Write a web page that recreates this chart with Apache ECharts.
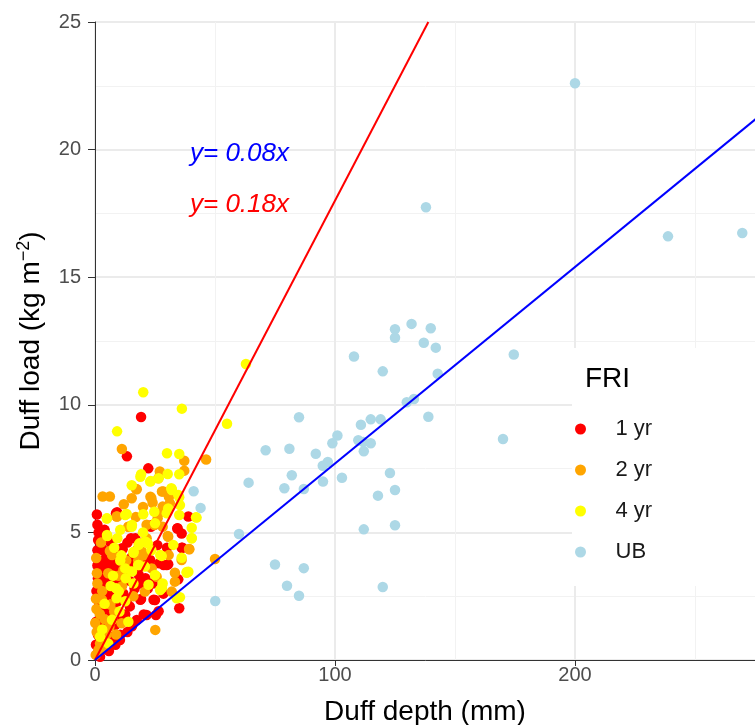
<!DOCTYPE html>
<html>
<head>
<meta charset="utf-8">
<script src="https://cdn.jsdelivr.net/npm/echarts@6/dist/echarts.min.js"></script>
<style>html,body{margin:0;padding:0;background:#fff;}#c{width:755px;height:725px;}</style>
</head>
<body>
<div id="c"></div>
<script>
// ---- data ----
var groupNames = ['1 yr', '2 yr', '4 yr', 'UB'];
var groupColors = ['#ff0000', '#ffa500', '#ffff00', '#add8e6'];

var fri1 = [
  [19.2,9.52],[13.3,7.98],[22.2,7.51],[8.75,5.75],[38.9,5.62],[23.3,5.22],[34.3,5.15],[36.1,4.96],
  [15,4.77],[36.1,4.4],[3.2,4.31],[11.5,4.34],[26.8,3.79],[29.9,3.72],[2.8,3.81],[7.6,3.85],[4.6,3.4],
  [34.7,3.16],[18.7,3.0],[11.1,3.13],[3.5,2.87],[4.2,2.48],[11.8,2.61],[19.2,2.39],[25,2.35],[35.1,2.03],
  [25.4,1.76],[21.5,1.76],[17.4,1.57],[2.1,1.96],[2.8,1.57],[10.4,0.78],[6.25,0.91],[2.1,0.13],
  [0.8,5.7],[1.5,5.0],[1.0,4.3],[2.2,3.6],[1.2,3.2],[0.6,2.7],[1.8,2.2],[0.5,1.5],[1.2,1.0],[0.4,0.6],
  [9.2,5.79],[23.75,5.29],[3.0,4.35],[11.25,4.38],[16.8,4.77],[3.6,3.79],[8.5,3.92],[15.4,4.05],
  [20.3,3.72],[23,3.92],[28.6,3.72],[7.1,3.53],[34.4,5.16],[36.4,4.4],[30.5,3.75],
  [2.9,3.41],[7.1,3.21],[18.2,3.34],[12.6,3.28],[2.9,2.82],[7.1,2.56],[18.9,2.36],[24.4,2.36],
  [2.9,1.91],[12.6,1.78],[20.3,1.78],[26.5,1.91],[8.5,1.38],[15.4,1.32],[10.5,0.99],[4.3,0.73],
  [7.1,0.86],[2.2,0.34],[5.5,2.0],[9.5,2.3],[14.5,2.1],[5.0,4.8],[10.0,3.6],[13.5,4.6],[6.0,3.0],
  [1.0,5.3],[4.0,5.1],[6.5,4.6],[1.3,4.7],[4.5,4.0],[9.5,4.1],[13.0,3.9],[5.5,3.7],[1.0,3.7],
  [3.5,3.2],[9.0,3.0],[14.5,3.1],[16.5,2.8],[1.6,2.5],[5.0,2.6],[8.0,2.2],[13.5,2.4],[3.8,2.1],
  [6.8,1.8],[1.5,1.3],[4.0,1.4],[11.5,1.6],[13.5,1.1],[3.2,0.9],[8.5,0.6],[5.8,0.35],[1.0,0.25],
  [16.0,3.7],[21.0,3.2],[24.0,3.0],[17.5,4.3],[26.0,4.5],[30.0,4.4],[22.0,2.8],[28.5,2.6]
];
var fri2 = [
  [11.2,8.27],[37.2,7.81],[46.3,7.86],[37.2,7.42],[27,7.39],[26.4,7.12],[17.4,6.69],[3.2,6.41],
  [6.2,6.41],[15.3,6.34],[23.1,6.4],[24,6.16],[28.5,6.6],[30.8,6.4],[31.2,6.14],[28.2,6.01],[9,5.62],
  [26.1,5.55],[13.9,5.22],[28.2,5.22],[21.5,4.77],[30.3,4.86],[39.3,4.34],[6.2,4.27],[36.1,3.92],
  [50,3.96],[11.8,3.53],[23.6,3.59],[33.3,3.42],[33.3,3.07],[25.7,3.26],[20.8,2.68],[32,2.68],
  [25.1,1.18],[11.1,1.44],[3.5,1.18],[2.1,0.65],[1.4,0.39],
  [17.1,6.7],[23.5,6.34],[27.9,6.6],[9.2,5.62],[28.6,5.81],[24.8,5.29],[14,5.22],[7.1,4.11],
  [19.6,4.24],[30.7,4.11],[30.5,4.83],[39.2,4.35],[0.1,1.45],[1.5,0.99],[6.4,2.17],[11.25,2.89],
  [2.9,2.36],[1.0,3.0],[4.0,1.6],[0.6,2.0],[8.0,1.9],[16.0,2.5],[13.0,3.9],
  [0.5,4.0],[2.5,4.6],[0.8,3.4],[3.0,2.7],[0.4,2.4],[2.0,1.8],[0.7,1.1],[4.8,1.0],[3.0,0.5],
  [0.3,0.2],[6.0,1.3],[8.8,1.0],[5.5,3.4],[9.8,3.3],[14.0,3.5],[18.0,3.9],[20.5,4.1],[17.0,5.6],
  [20.0,6.0],[12.0,6.1],[21.5,5.3]
];
var fri4 = [
  [20.1,10.49],[36.2,9.85],[55,9.26],[9.2,8.96],[30,8.1],[35.1,8.07],[19.2,7.28],[30.3,7.29],
  [35.1,7.28],[23.2,7.01],[15.3,6.85],[32,6.69],[35.1,6.38],[35.4,6.07],[24.7,5.81],[20.1,5.71],
  [13.2,5.72],[4.9,5.54],[29.9,5.75],[35.1,5.68],[42.1,5.59],[15.3,5.22],[25,5.36],[40.3,5.18],
  [5.1,4.86],[9.3,4.77],[18.5,4.57],[22,4.57],[40.3,4.77],[16,4.2],[27.8,4.08],[18,3.72],[20.8,3.66],
  [25,3.33],[38.2,3.42],[16,3.0],[28.2,3.0],[8.75,2.81],[9,2.42],[27.1,2.74],[34,2.42],[13.9,1.5],
  [5.5,0.65],[2.1,0.91],[62.9,11.6],
  [5,5.55],[12.6,5.68],[5,4.9],[15.4,5.29],[18.2,4.51],[16.1,4.24],[21,4.64],[27.2,4.11],[12.6,3.59],
  [18.2,3.72],[18.9,7.18],[23,6.99],[26.5,7.12],[31.8,6.73],[32,6.66],[34.7,6.47],[30.5,5.94],
  [42.3,5.58],[40.3,4.77],[36.1,4.01],[38.9,3.46],[32.6,4.51],[9.9,2.69],[12.6,2.3],[7.1,1.58],
  [22.3,2.95],[27.9,2.82],[15.4,3.47],[38.2,3.45],[35.4,2.46],[11.0,4.1],[7.5,3.3],[4.0,2.2],
  [10.5,3.9],[12.8,3.2],[6.5,2.9],[10.2,1.9],[3.0,1.2],[8.0,4.4],[20.0,5.0],[23.5,4.3],[10.5,5.1]
];
var ub = [
  [200,22.6],[137.9,17.74],[238.75,16.6],[269.7,16.73],[125,12.96],[131.9,13.17],[139.9,13.0],
  [125,12.63],[137,12.43],[142,12.24],[107.9,11.89],[119.9,11.31],[142.8,11.22],[174.5,11.97],
  [129.9,10.1],[132.9,10.23],[138.9,9.53],[85,9.51],[110.8,9.22],[114.9,9.43],[119,9.43],
  [101,8.8],[98.9,8.49],[109.7,8.61],[111.8,8.54],[114.9,8.49],[112,8.18],[170,8.66],[71.1,8.22],
  [81,8.28],[92,8.08],[97,7.76],[94.9,7.61],[102.9,7.14],[95,6.99],[82,7.24],[78.9,6.73],[87,6.7],
  [64,6.95],[122.9,7.33],[125,6.66],[117.9,6.44],[41.1,6.61],[44,5.96],[60,4.94],[112,5.12],
  [125,5.28],[75,3.74],[87,3.6],[80,2.91],[85,2.52],[119.9,2.86],[50.1,2.31]
];
var fitSlopes = [0.18, 0.077];         // red (FRI), blue (UB)
var fitColors = ['#ff0000', '#0000ff'];
var fitLabels = ['y= 0.18x', 'y= 0.08x'];
var yMax = 25, xMax = 300;
var xTicks = [0, 100, 200];
var yTicks = [0, 5, 10, 15, 20, 25];

// ---- chart ----
var FONT = "'Liberation Sans', Arial, Helvetica, sans-serif";
var chart = echarts.init(document.getElementById('c'), null, {renderer: 'canvas'});

function fitLine(s) {
  var xEnd = Math.min(xMax, yMax / s);
  return [[0, 0], [xEnd, s * xEnd]];
}

var groups = [fri1, fri2, fri4, ub];
var series = groups.map(function (d, i) {
  return {
    name: groupNames[i], type: 'scatter', data: d, symbolSize: 10.5,
    itemStyle: {color: groupColors[i], opacity: 1}, z: 2 + i * 0.01,
    emphasis: {disabled: true}
  };
});
fitSlopes.forEach(function (s, i) {
  series.push({
    type: 'line', data: fitLine(s), showSymbol: false, symbol: 'none',
    lineStyle: {color: fitColors[i], width: 2}, z: 5, silent: true
  });
});

chart.setOption({
  animation: false,
  backgroundColor: '#fff',
  textStyle: {fontFamily: FONT},
  grid: {left: 95, top: 22, right: -60, bottom: 65, outerBoundsMode: 'none', containLabel: false,
    show: true, borderColor: '#333', borderWidth: 1, backgroundColor: '#fff'},
  xAxis: {
    type: 'value', min: 0, max: xMax, interval: 100,
    name: 'Duff depth (mm)', nameLocation: 'middle', nameGap: 38,
    nameTextStyle: {fontSize: 28, color: '#000', fontFamily: FONT, padding: [0, 60, 0, 0]},
    axisLine: {show: true, lineStyle: {color: '#333', width: 1}},
    axisTick: {show: true, length: 6, lineStyle: {color: '#333', width: 1}},
    axisLabel: {fontSize: 20, color: '#4d4d4d', margin: 5, fontFamily: FONT,
      formatter: function (v) { return xTicks.indexOf(v) >= 0 ? String(v) : ''; }},
    splitLine: {show: true, lineStyle: {color: '#ebebeb', width: 2}},
    minorTick: {show: false, splitNumber: 2},
    minorSplitLine: {show: true, lineStyle: {color: '#f2f2f2', width: 1}}
  },
  yAxis: {
    type: 'value', min: 0, max: yMax, interval: 5,
    name: 'Duff load (kg m{sup|−2})', nameLocation: 'middle', nameGap: 48, nameRotate: 90,
    nameTextStyle: {fontSize: 28, color: '#000', fontFamily: FONT,
      rich: {sup: {fontSize: 18, color: '#000', fontFamily: FONT, verticalAlign: 'top', padding: [0, 0, 14, 0]}}},
    axisLine: {show: true, lineStyle: {color: '#333', width: 1}},
    axisTick: {show: true, length: 7, lineStyle: {color: '#333', width: 1}},
    axisLabel: {fontSize: 20, color: '#4d4d4d', margin: 14, fontFamily: FONT,
      formatter: function (v) { return yTicks.indexOf(v) >= 0 ? String(v) : ''; }},
    splitLine: {show: true, lineStyle: {color: '#ebebeb', width: 2}},
    minorTick: {show: false, splitNumber: 2},
    minorSplitLine: {show: true, lineStyle: {color: '#f2f2f2', width: 1}}
  },
  legend: {
    orient: 'vertical', left: 575, top: 418, padding: 0,
    data: groupNames, icon: 'circle', itemWidth: 60, itemHeight: 11, itemGap: 19,
    textStyle: {fontSize: 22, color: '#1a1a1a', fontFamily: FONT, lineHeight: 22},
    selectedMode: false, z: 10
  },
  graphic: [
    {type: 'rect', left: 572, top: 348, shape: {width: 190, height: 238}, style: {fill: '#fff'}, z: 8, silent: true},
    {type: 'text', left: 585, top: 365, style: {text: 'FRI', fontSize: 28, fill: '#000', fontFamily: FONT}, z: 9},
    {type: 'text', left: 190, top: 141, style: {text: fitLabels[1], fontSize: 26, fontStyle: 'italic', fill: fitColors[1], fontFamily: FONT}, z: 9},
    {type: 'text', left: 190, top: 192, style: {text: fitLabels[0], fontSize: 26, fontStyle: 'italic', fill: fitColors[0], fontFamily: FONT}, z: 9}
  ],
  series: series
});
</script>
</body>
</html>
